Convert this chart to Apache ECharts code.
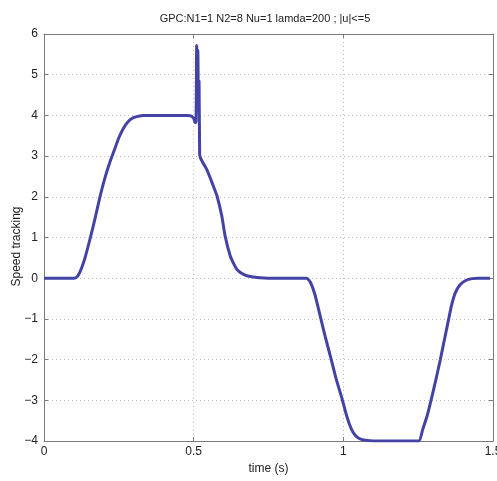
<!DOCTYPE html>
<html>
<head>
<meta charset="utf-8">
<script src="https://cdn.jsdelivr.net/npm/echarts@6/dist/echarts.min.js"></script>
<style>
  html, body { margin: 0; padding: 0; background: #fff; }
  #main { width: 497px; height: 481px; }
</style>
</head>
<body>
<div id="main"></div>
<script>
var timeVals = [
  0, 0.10, 0.11, 0.12, 0.135, 0.155, 0.17, 0.187, 0.205, 0.22, 0.235, 0.25, 0.265, 0.28, 0.295, 0.31, 0.33, 0.35,
  0.40, 0.48, 0.49, 0.50, 0.505, 0.508, 0.510, 0.512, 0.514, 0.516, 0.518, 0.520, 0.523, 0.530,
  0.544, 0.556, 0.566, 0.578, 0.594, 0.605, 0.622, 0.634, 0.644, 0.66, 0.678, 0.70, 0.72, 0.75,
  0.80, 0.877, 0.89, 0.905, 0.925, 0.94, 0.959, 0.977, 0.996, 1.008, 1.02, 1.032, 1.045, 1.06, 1.08, 1.10,
  1.20, 1.252, 1.265, 1.28, 1.293, 1.309, 1.324, 1.338, 1.352, 1.362, 1.374, 1.39, 1.41, 1.43, 1.45, 1.49
];
var speedVals = [
  0, 0, 0.03, 0.15, 0.45, 1.0, 1.45, 2.0, 2.5, 2.85, 3.15, 3.45, 3.68, 3.84, 3.93, 3.97, 3.995, 4.0,
  4.0, 4.0, 3.99, 3.93, 3.82, 3.85, 5.72, 4.4, 5.6, 4.1, 4.85, 3.05, 2.95, 2.85,
  2.67, 2.45, 2.26, 2.02, 1.53, 1.04, 0.55, 0.35, 0.22, 0.12, 0.06, 0.03, 0.01, 0,
  0, 0, -0.1, -0.4, -1.0, -1.45, -1.98, -2.5, -2.97, -3.3, -3.58, -3.78, -3.9, -3.96, -3.99, -4.0,
  -4.0, -4.0, -3.72, -3.38, -3.0, -2.5, -2.0, -1.5, -1.0, -0.65, -0.36, -0.16, -0.05, -0.01, 0, 0
];
var xTicks = [0, 0.5, 1, 1.5];
var yTicks = [-4, -3, -2, -1, 0, 1, 2, 3, 4, 5, 6];

var points = timeVals.map(function (t, i) { return [t, speedVals[i]]; });
var font = 'Liberation Sans';
var frameColor = '#7a7a7a';

function minusFmt(v) { return String(v).replace('-', '\u2212'); }

var myChart = echarts.init(document.getElementById('main'));
myChart.setOption({
  animation: false,
  backgroundColor: '#fff',
  title: {
    text: 'GPC:N1=1 N2=8 Nu=1 lamda=200 ; |u|<=5',
    left: 260, top: 8, textAlign: 'center',
    textStyle: { fontFamily: font, fontSize: 11, fontWeight: 'normal', color: '#222' }
  },
  grid: { left: 44, right: 4, top: 34, bottom: 40, outerBoundsMode: 'none', containLabel: false },
  xAxis: [{
    type: 'value', min: xTicks[0], max: xTicks[xTicks.length - 1], interval: 0.5,
    name: 'time (s)', nameLocation: 'middle', nameGap: 22, nameMoveOverlap: false,
    nameTextStyle: { fontFamily: font, fontSize: 12, color: '#222' },
    axisLine: { onZero: false, lineStyle: { color: frameColor, width: 1 } },
    axisTick: { inside: true, length: 4, lineStyle: { color: frameColor } },
    axisLabel: { fontFamily: font, fontSize: 12, color: '#222', margin: 5, formatter: minusFmt },
    splitLine: { show: true, lineStyle: { color: '#bdbdbd', type: [1, 3] } }
  }, {
    type: 'value', position: 'top', min: 0, max: 1.5, interval: 0.5,
    axisLine: { show: true, onZero: false, lineStyle: { color: frameColor, width: 1 } },
    axisTick: { show: true, inside: true, length: 4, lineStyle: { color: frameColor } },
    axisLabel: { show: false }, splitLine: { show: false }
  }],
  yAxis: [{
    type: 'value', min: yTicks[0], max: yTicks[yTicks.length - 1], interval: 1,
    name: 'Speed tracking', nameLocation: 'middle', nameGap: 21, nameMoveOverlap: false,
    nameTextStyle: { fontFamily: font, fontSize: 12, color: '#222', padding: [0, 18, 0, 0] },
    axisLine: { show: true, onZero: false, lineStyle: { color: frameColor, width: 1 } },
    axisTick: { show: true, inside: true, length: 4, lineStyle: { color: frameColor } },
    axisLabel: { fontFamily: font, fontSize: 12, color: '#222', margin: 6, formatter: minusFmt },
    splitLine: { show: true, lineStyle: { color: '#bdbdbd', type: [1, 3] } }
  }, {
    type: 'value', position: 'right', min: -4, max: 6, interval: 1,
    axisLine: { show: true, onZero: false, lineStyle: { color: frameColor, width: 1 } },
    axisTick: { show: true, inside: true, length: 4, lineStyle: { color: frameColor } },
    axisLabel: { show: false }, splitLine: { show: false }
  }],
  series: [{
    type: 'line', xAxisIndex: 0, yAxisIndex: 0,
    data: points, showSymbol: false, smooth: 0.2,
    lineStyle: { color: '#4343a6', width: 3 }
  }]
});
</script>
</body>
</html>
